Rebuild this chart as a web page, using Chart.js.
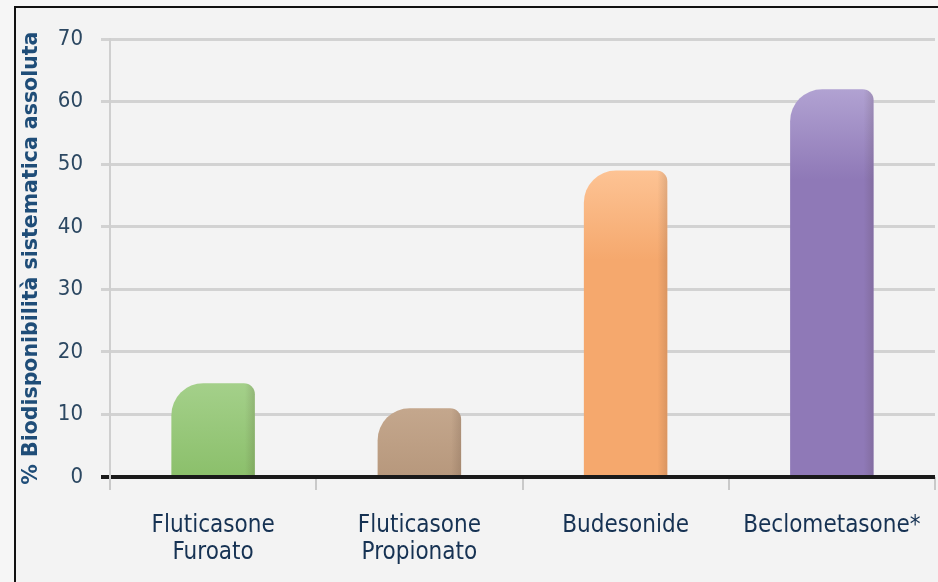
<!DOCTYPE html>
<html>
<head>
<meta charset="utf-8">
<script src="https://cdn.jsdelivr.net/npm/chart.js@4.4.1/dist/chart.umd.min.js"></script>
<style>
  html, body { margin: 0; padding: 0; background: #f6f6f6; }
  #frame {
    position: absolute; left: 14px; top: 6px;
    width: 922px; height: 574px;
    border-left: 2px solid #111; border-top: 2px solid #111;
    background: #f3f3f3;
  }
  #myChart { display: block; }
</style>
</head>
<body>
<div id="frame"><canvas id="myChart" width="922" height="574"></canvas></div>
<script>
'use strict';

// ****** DATA ******
let drugNames = [
  ['Fluticasone', 'Furoato'],
  ['Fluticasone', 'Propionato'],
  'Budesonide',
  'Beclometasone*'
];
let bioValues = [15, 11, 49, 62];
let yTicks = [0, 10, 20, 30, 40, 50, 60, 70];
let yTitle = '% Biodisponibilità sistematica assoluta';

// base colour + lighter top colour for each bar
let barColors = ['#8cc06c', '#b39377', '#f5a86d', '#8f79b7'];
let barTops = ['#a4d08a', '#c4a78d', '#fdc394', '#b1a2d2'];

const fontFamily = '"Liberation Sans Narrow", "Arial Narrow", "DejaVu Sans Condensed", sans-serif';
const barRadius = { topLeft: 32, topRight: 11, bottomLeft: 0, bottomRight: 0 };
const ctx = document.getElementById('myChart').getContext('2d');

// vertical gradient from the top of each bar
function barFill(context) {
  let i = context.dataIndex;
  let chart = context.chart;
  if (!chart.chartArea) {
    return barColors[i];
  }
  let top = chart.scales.y.getPixelForValue(bioValues[i]);
  let grad = chart.ctx.createLinearGradient(0, top, 0, top + 90);
  grad.addColorStop(0, barTops[i]);
  grad.addColorStop(1, barColors[i]);
  return grad;
}

// soft darker edge on the right side of each bar (reads the bar elements)
const edgeShade = {
  id: 'edgeShade',
  afterDatasetsDraw(chart) {
    let c = chart.ctx;
    let meta = chart.getDatasetMeta(0);
    meta.data.forEach(function (bar) {
      let left = bar.x - bar.width / 2;
      let right = bar.x + bar.width / 2;
      let grad = c.createLinearGradient(right - 10, 0, right, 0);
      grad.addColorStop(0, 'rgba(60,40,30,0)');
      grad.addColorStop(1, 'rgba(60,40,30,0.15)');
      c.save();
      c.beginPath();
      c.roundRect(left, bar.y, bar.width, bar.base - bar.y,
        [barRadius.topLeft, barRadius.topRight, 0, 0]);
      c.clip();
      c.fillStyle = grad;
      c.fillRect(right - 10, bar.y, 10, bar.base - bar.y);
      c.restore();
    });
  }
};

const chartObj = {
  type: 'bar',
  data: {
    labels: drugNames,
    datasets: [{
      data: bioValues,
      backgroundColor: barFill,
      borderWidth: 0,
      borderRadius: barRadius,
      borderSkipped: 'start',
      categoryPercentage: 0.45,
      barPercentage: 0.9
    }]
  },
  plugins: [edgeShade],
  options: {
    responsive: false,
    animation: false,
    layout: { padding: { top: 27, right: 3, left: 0, bottom: 0 } },
    plugins: {
      legend: { display: false },
      tooltip: { enabled: false }
    },
    scales: {
      x: {
        offset: true,
        border: { display: false },
        grid: {
          offset: true,
          drawOnChartArea: false,
          drawTicks: true,
          tickLength: 13,
          color: '#c9c9c9',
          lineWidth: 2
        },
        ticks: {
          padding: 22,
          color: '#163253',
          font: { family: fontFamily, size: 24, lineHeight: 1.12 },
          maxRotation: 0
        },
        afterFit: function (axis) {
          axis.height = 105;
          // labels fit inside their categories, no side padding needed
          axis.paddingLeft = 0;
          axis.paddingRight = 0;
        }
      },
      y: {
        min: 0,
        max: 70,
        afterBuildTicks: function (axis) {
          axis.ticks = yTicks.map(v => ({ value: v }));
        },
        border: { display: true, color: '#cfcfcf', width: 2 },
        grid: {
          color: function (c) { return c.tick && c.tick.value === 0 ? '#1a1a1a' : '#d2d2d2'; },
          lineWidth: function (c) { return c.tick && c.tick.value === 0 ? 4 : 3; },
          tickLength: 9,
          drawTicks: true
        },
        ticks: {
          padding: 18,
          color: '#2c4862',
          font: { family: fontFamily, size: 22 }
        },
        title: {
          display: true,
          text: yTitle,
          color: '#1f4d78',
          padding: { top: 3, bottom: 0 },
          font: { family: '"DejaVu Sans", sans-serif', size: 20.5, weight: 'bold' }
        },
        afterFit: function (axis) { axis.width = 94; }
      }
    }
  }
};

const myChart = new Chart(ctx, chartObj); // eslint-disable-line
</script>
</body>
</html>
